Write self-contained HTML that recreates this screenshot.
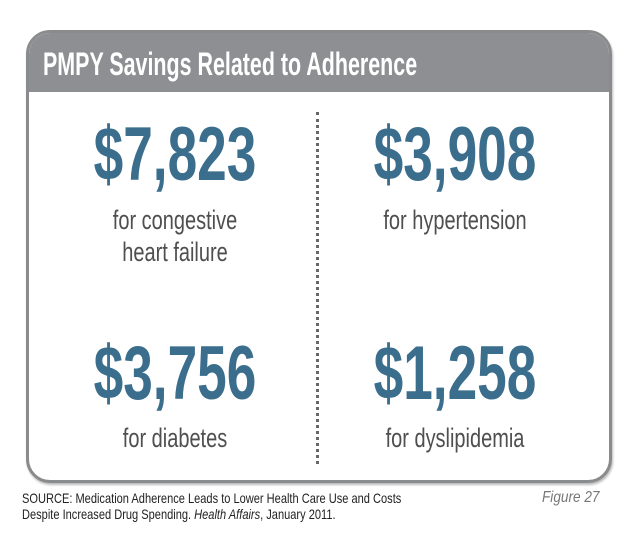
<!DOCTYPE html>
<html><head><style>
body{margin:0;width:627px;height:552px;background:#fff;position:relative;overflow:hidden;font-family:"Liberation Sans",sans-serif}
.box{position:absolute;left:26px;top:30px;width:580px;height:447px;border:3px solid #8a8b8d;border-radius:24px;overflow:hidden;box-shadow:1px 2px 2px #bbb}
.hdr{position:absolute;left:0;top:0;right:0;height:59px;background:#8e8f92}
.t{position:absolute;white-space:nowrap;transform-origin:center top}
.hd{top:13px;font-size:32px;font-weight:bold;color:#fff;transform:scaleX(0.67);transform-origin:left top;left:14px}
.num{font-size:76px;font-weight:bold;color:#3b6e8d;text-align:center;width:300px;transform:scaleX(0.7);-webkit-text-stroke:0}
.lab{font-size:27px;color:#4f4f4f;text-align:center;width:300px;line-height:32px;transform:scaleX(0.74)}
.div{position:absolute;left:316px;top:112px;height:352px;border-left:3px dotted #666}
.foot{position:absolute;left:22px;top:490px;font-size:14px;color:#222;line-height:16px;transform:scaleX(0.79);transform-origin:left top;white-space:nowrap}
</style></head><body>
<div class="box"><div class="hdr"></div><div class="t hd">PMPY Savings Related to Adherence</div></div>
<div class="div"></div>
<div class="t num" style="left:25px;top:111px">$7,823</div>
<div class="t lab" style="left:25px;top:204px">for congestive<br>heart failure</div>
<div class="t num" style="left:305px;top:111px">$3,908</div>
<div class="t lab" style="left:305px;top:204px">for hypertension</div>
<div class="t num" style="left:25px;top:330px">$3,756</div>
<div class="t lab" style="left:25px;top:422px">for diabetes</div>
<div class="t num" style="left:305px;top:330px">$1,258</div>
<div class="t lab" style="left:305px;top:422px">for dyslipidemia</div>
<div class="foot">SOURCE: Medication Adherence Leads to Lower Health Care Use and Costs<br>Despite Increased Drug Spending. <i>Health Affairs</i>, January 2011.</div>
<div class="t" style="left:542px;top:489px;font-size:16px;font-style:italic;color:#777;transform:scaleX(0.85);transform-origin:left top">Figure 27</div>
</body></html>
